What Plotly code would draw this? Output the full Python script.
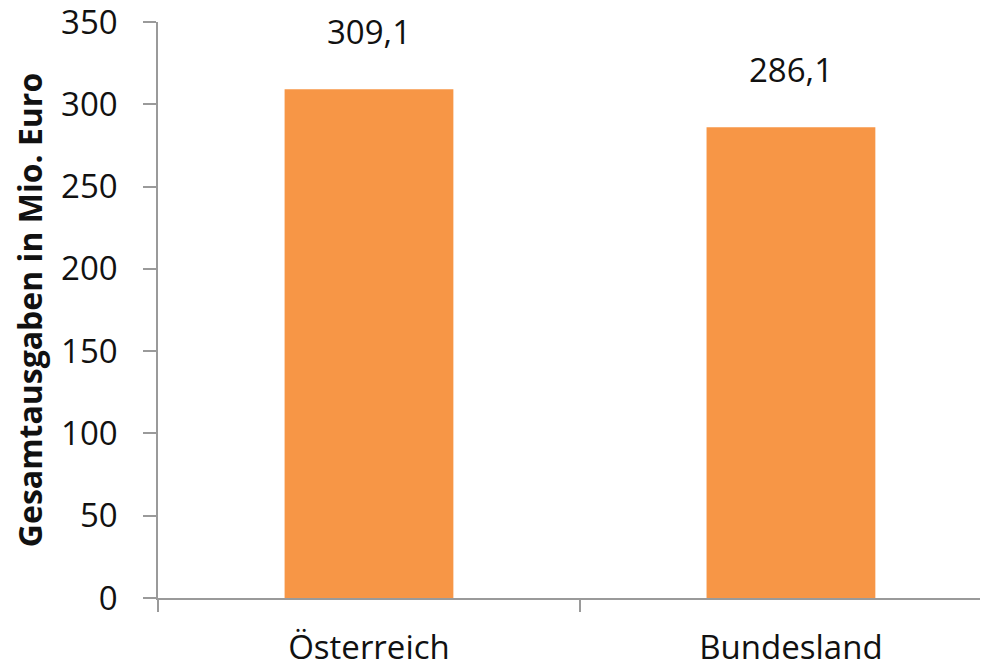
import plotly.graph_objects as go

categories = ["Österreich", "Bundesland"]
values = [309.1, 286.1]
value_labels = ["309,1", "286,1"]
y_ticks = [0, 50, 100, 150, 200, 250, 300, 350]

font_family = "Open Sans, Lato, sans-serif"
axis_color = "#9a9a9a"
text_color = "#111111"

fig = go.Figure()
fig.add_trace(go.Bar(x=categories, y=values, width=0.4,
                     marker=dict(color="#F79646", line=dict(width=0)),
                     showlegend=False))

# Datenbeschriftungen über den Balken
for cat, val, lab in zip(categories, values, value_labels):
    fig.add_annotation(x=cat, y=val, text=lab, showarrow=False,
                       yanchor="bottom", yshift=33,
                       font=dict(family=font_family, size=33, color=text_color))

# the page has an 8px body margin, so margins are shifted by 8px
fig.update_layout(
    width=988, height=662,
    paper_bgcolor="white", plot_bgcolor="white",
    margin=dict(l=150, r=8, t=14, b=72),
    separators=", ",
    font=dict(family=font_family, size=33, color=text_color),
)
fig.update_xaxes(range=[-0.5, 1.467], showline=True, linecolor=axis_color, linewidth=1.5,
                 ticks="outside", tickson="boundaries", ticklen=12, tickcolor=axis_color,
                 tickwidth=1.5, showgrid=False, ticklabelstandoff=20, automargin=False,
                 tickfont=dict(family=font_family, size=33, color=text_color))
fig.update_yaxes(range=[0, 350], tickvals=y_ticks, showline=True, linecolor=axis_color,
                 linewidth=1.5, ticks="outside", ticklen=13, tickcolor=axis_color,
                 tickwidth=1.5, showgrid=False, zeroline=False, ticklabelstandoff=19,
                 ticklabeloverflow="allow", automargin=False,
                 tickfont=dict(family=font_family, size=33, color=text_color),
                 title=dict(text="<b>Gesamtausgaben in Mio. Euro</b>", standoff=12,
                            font=dict(family=font_family, size=32, color=text_color)))

fig.write_html("out.html")
